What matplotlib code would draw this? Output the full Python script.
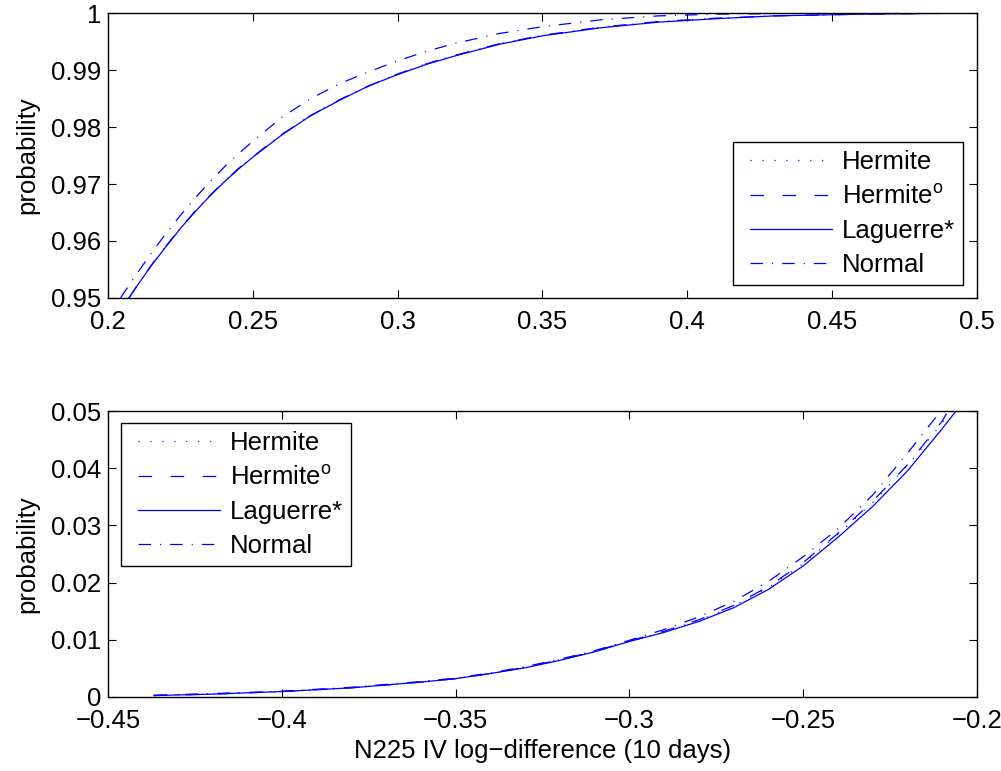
import matplotlib
matplotlib.use('Agg')
import matplotlib.pyplot as plt
from matplotlib.legend_handler import HandlerLine2D
from matplotlib.lines import Line2D

plt.rcParams['font.family'] = ['Liberation Sans', 'DejaVu Sans']
plt.rcParams['mathtext.fontset'] = 'custom'
plt.rcParams['mathtext.rm'] = 'Liberation Sans'
plt.rcParams['lines.scale_dashes'] = False

labels = ['Hermite', r'Hermite$^{\mathrm{o}}$', 'Laguerre*', 'Normal']

# upper tail (top panel)
x_up = [0.2072, 0.210, 0.215, 0.220, 0.225, 0.230, 0.235, 0.240, 0.245, 0.250,
        0.260, 0.270, 0.280, 0.290, 0.300, 0.310, 0.320, 0.335, 0.350, 0.370,
        0.390, 0.410, 0.430, 0.460, 0.500]
lag_up = [0.9500, 0.9521, 0.9557, 0.9590, 0.9622, 0.9651, 0.9678, 0.9703, 0.9726, 0.9747,
          0.9786, 0.9820, 0.9847, 0.9872, 0.9892, 0.9910, 0.9925, 0.9945, 0.9960, 0.9974,
          0.9984, 0.9990, 0.9995, 0.9998, 1.0000]
her_up = [0.9500, 0.9522, 0.9558, 0.9591, 0.9623, 0.9652, 0.9679, 0.9704, 0.9727, 0.9748,
          0.9787, 0.9821, 0.9848, 0.9873, 0.9893, 0.9911, 0.9926, 0.9946, 0.9961, 0.9975,
          0.9985, 0.9991, 0.9995, 0.9998, 1.0000]
hero_up = [0.9500, 0.9521, 0.9558, 0.9591, 0.9622, 0.9652, 0.9679, 0.9704, 0.9727, 0.9748,
           0.9787, 0.9820, 0.9848, 0.9872, 0.9893, 0.9911, 0.9926, 0.9946, 0.9961, 0.9975,
           0.9985, 0.9991, 0.9995, 0.9998, 1.0000]
x_norm_up = [0.2043, 0.210, 0.215, 0.220, 0.225, 0.230, 0.235, 0.240, 0.245, 0.250,
             0.260, 0.270, 0.280, 0.290, 0.300, 0.310, 0.320, 0.335, 0.350, 0.370,
             0.390, 0.410, 0.450, 0.500]
norm_up = [0.9500, 0.9543, 0.9579, 0.9613, 0.9645, 0.9675, 0.9703, 0.9729, 0.9753, 0.9775,
           0.9817, 0.9850, 0.9876, 0.9897, 0.9916, 0.9933, 0.9947, 0.9964, 0.9976, 0.9988,
           0.9995, 0.9998, 1.0000, 1.0000]

# lower tail (bottom panel)
x_lo = [-0.4368, -0.42, -0.40, -0.38, -0.36, -0.35, -0.34, -0.33, -0.32, -0.31,
        -0.30, -0.29, -0.28, -0.27, -0.26, -0.25, -0.24, -0.23, -0.22, -0.21]
lag_lo = [0.00025, 0.0005, 0.00095, 0.0016, 0.0026, 0.0032, 0.0041, 0.0051, 0.0064, 0.0079,
          0.0097, 0.0113, 0.0132, 0.0156, 0.0188, 0.0229, 0.0279, 0.0333, 0.0395, 0.0469]
hero_lo = [0.00025, 0.0005, 0.00095, 0.0016, 0.0026, 0.0032, 0.0041, 0.0052, 0.0065, 0.0080,
           0.0098, 0.0115, 0.0135, 0.0160, 0.0193, 0.0235, 0.0286, 0.0342, 0.0406, 0.0482]
her_lo = [0.00025, 0.0005, 0.00095, 0.0016, 0.0026, 0.0032, 0.0041, 0.0052, 0.0065, 0.0079,
          0.0097, 0.0114, 0.0134, 0.0159, 0.0191, 0.0233, 0.0284, 0.0340, 0.0404, 0.0479]
norm_lo = [0.0003, 0.0006, 0.0010, 0.0017, 0.0027, 0.0033, 0.0042, 0.0053, 0.0066, 0.0081,
           0.0099, 0.0118, 0.0140, 0.0167, 0.0202, 0.0245, 0.0294, 0.0353, 0.0426, 0.0503]
# curve ends where they leave the top of the panel
x_end_lo = {'lag': -0.206, 'hero': -0.2083, 'her': -0.2078}

styles = [(0, (0.8, 7.8)), (0, (9.8, 13.3)), '-', (0, (9, 6.5, 0.8, 6.5))]
blue = (0, 0, 1)
lw = 0.9
fs = 18.5

fig = plt.figure(figsize=(10.01, 7.71), dpi=100)
ax1 = fig.add_axes([0.1079, 0.6135, 0.868, 0.3696])
ax2 = fig.add_axes([0.1079, 0.096, 0.868, 0.3709])

ax1.plot(x_up, her_up, color=blue, lw=lw, linestyle=styles[0], label=labels[0])
ax1.plot(x_up, hero_up, color=blue, lw=lw, linestyle=styles[1], label=labels[1])
ax1.plot(x_up, lag_up, color=blue, lw=lw, linestyle=styles[2], label=labels[2])
ax1.plot(x_norm_up, norm_up, color=blue, lw=lw, linestyle=styles[3], label=labels[3])

ax2.plot(x_lo + [x_end_lo['her']], her_lo + [0.05], color=blue, lw=lw,
         linestyle=styles[0], label=labels[0])
ax2.plot(x_lo + [x_end_lo['hero']], hero_lo + [0.05], color=blue, lw=lw,
         linestyle=styles[1], label=labels[1])
ax2.plot(x_lo + [x_end_lo['lag']], lag_lo + [0.05], color=blue, lw=lw,
         linestyle=styles[2], label=labels[2])
ax2.plot(x_lo, norm_lo, color=blue, lw=lw, linestyle=styles[3], label=labels[3])

ax1.set_xlim(0.2, 0.5)
ax1.set_ylim(0.95, 1.0)
ax1.set_xticks([0.2, 0.25, 0.3, 0.35, 0.4, 0.45, 0.5])
ax1.set_xticklabels(['0.2', '0.25', '0.3', '0.35', '0.4', '0.45', '0.5'])
ax1.set_yticks([0.95, 0.96, 0.97, 0.98, 0.99, 1.0])
ax1.set_yticklabels(['0.95', '0.96', '0.97', '0.98', '0.99', '1'])

ax2.set_xlim(-0.45, -0.2)
ax2.set_ylim(0, 0.05)
ax2.set_xticks([-0.45, -0.4, -0.35, -0.3, -0.25, -0.2])
ax2.set_xticklabels(['\u22120.45', '\u22120.4', '\u22120.35', '\u22120.3', '\u22120.25', '\u22120.2'])
ax2.set_yticks([0, 0.01, 0.02, 0.03, 0.04, 0.05])
ax2.set_yticklabels(['0', '0.01', '0.02', '0.03', '0.04', '0.05'])

for ax in (ax1, ax2):
    ax.tick_params(direction='in', top=True, right=True, length=6, width=0.8,
                   labelsize=fs)
    ax.tick_params(axis='x', pad=9)
    ax.tick_params(axis='y', pad=5)
    for sp in ax.spines.values():
        sp.set_linewidth(1.0)
    ax.set_ylabel('probability', fontsize=fs, labelpad=8)

ax2.set_xlabel('N225 IV log\u2212difference (10 days)', fontsize=fs, labelpad=4)

hmap = {Line2D: HandlerLine2D(xpad=0.35)}
leg_kw = dict(fontsize=fs, frameon=True, fancybox=False, framealpha=1,
              edgecolor='black', handlelength=3.55, handletextpad=0.4,
              labelspacing=0.4, borderpad=0.3, borderaxespad=0, handler_map=hmap)
l1 = ax1.legend(loc='lower right', bbox_to_anchor=(0.984, 0.0456), **leg_kw)
l2 = ax2.legend(loc='upper left', bbox_to_anchor=(0.015, 0.958), **leg_kw)
for lg in (l1, l2):
    lg.get_frame().set_linewidth(1.0)

fig.savefig('out.png', dpi=100)
